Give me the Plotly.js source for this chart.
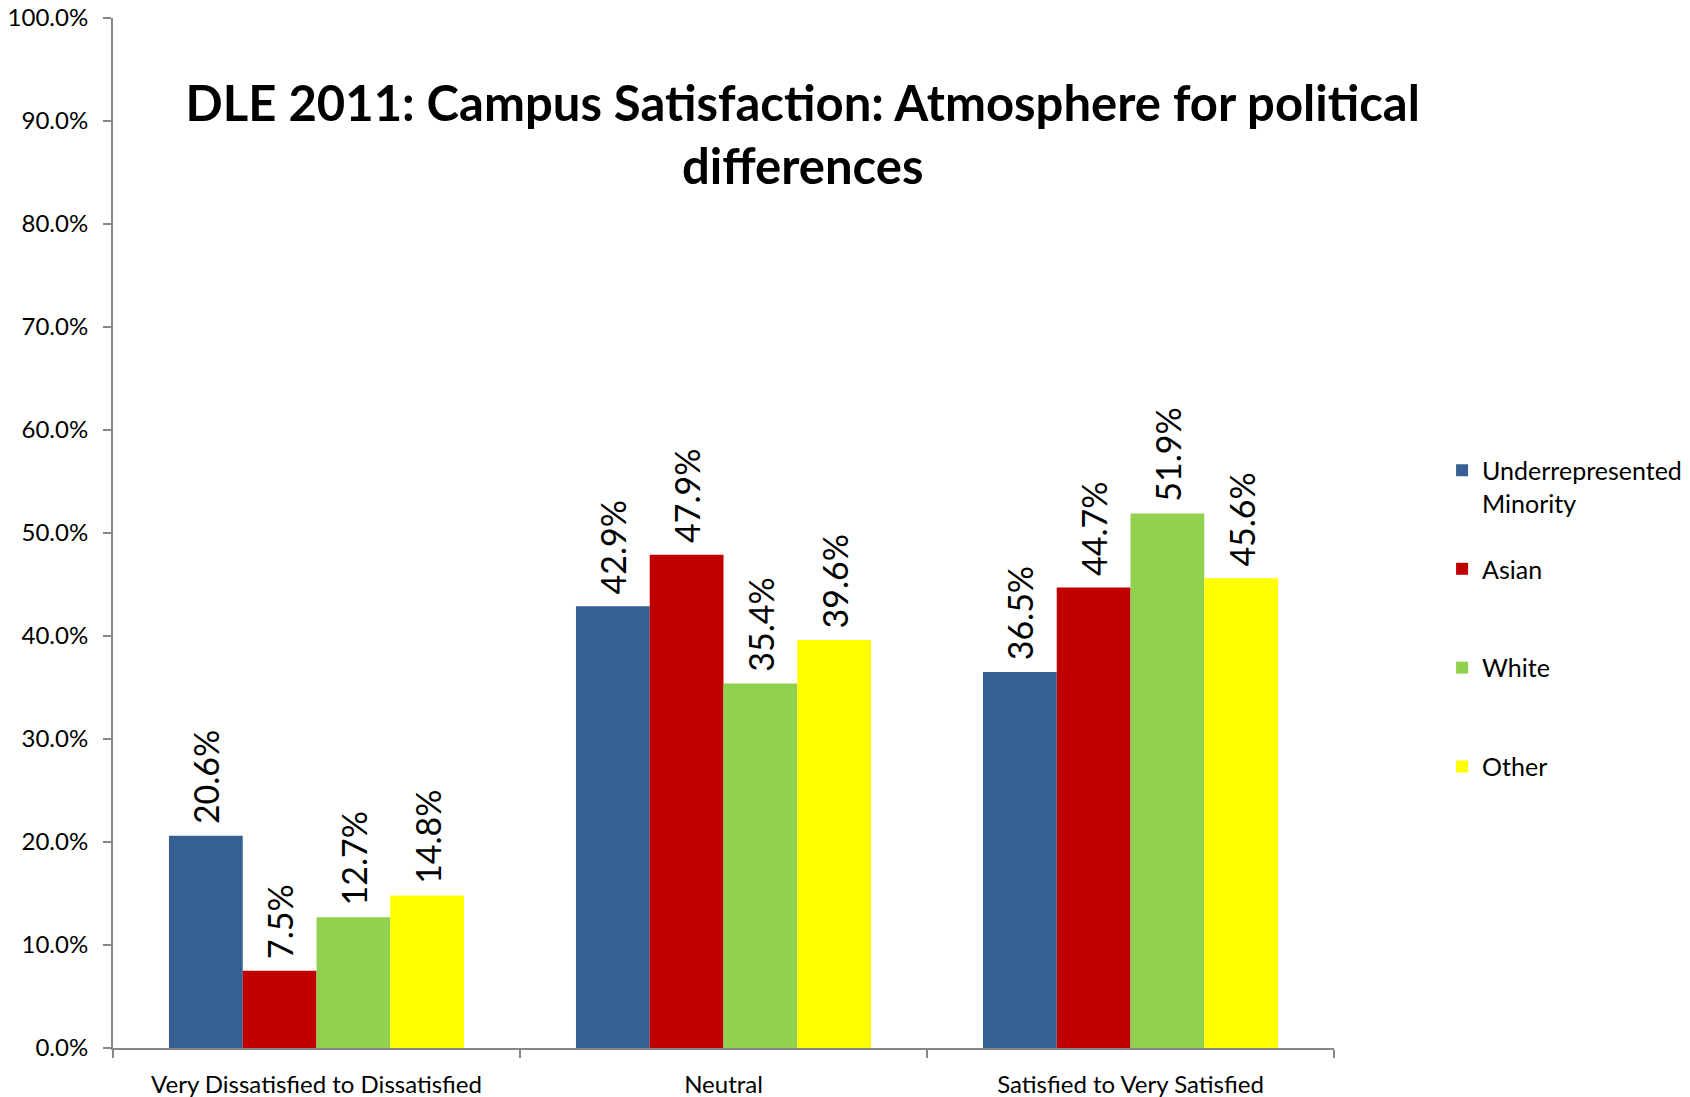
<!DOCTYPE html>
<html>
<head>
<meta charset="utf-8">
<script src="https://cdn.plot.ly/plotly-3.0.1.min.js"></script>
<style>html,body{margin:0;padding:0;background:#fff;}#chart{width:1690px;height:1097px;}</style>
</head>
<body>
<div id="chart"></div>
<script>
const categories = ["Very Dissatisfied to Dissatisfied", "Neutral", "Satisfied to Very Satisfied"];
const seriesNames = ["Underrepresented<br>Minority", "Asian", "White", "Other"];
const urm = [0.206, 0.429, 0.365];
const asian = [0.075, 0.479, 0.447];
const white = [0.127, 0.354, 0.519];
const other = [0.148, 0.396, 0.456];
const colors = ["#376092", "#C00000", "#92D050", "#FFFF00"];
const yTickVals = [0, 0.1, 0.2, 0.3, 0.4, 0.5, 0.6, 0.7, 0.8, 0.9, 1.0];

const FONT = "Lato, 'Open Sans', sans-serif";
const allSeries = [urm, asian, white, other];
const legendIds = ["legend", "legend2", "legend3", "legend4"];
const traces = allSeries.map((vals, i) => ({
  type: "bar",
  name: seriesNames[i],
  x: categories,
  y: vals,
  marker: {color: colors[i], line: {width: 0}},
  text: vals.map(v => "\u00a0" + (v * 100).toFixed(1) + "%"),
  textposition: "outside",
  textangle: -90,
  constraintext: "none",
  textfont: {family: FONT, size: 34, color: "#000"},
  cliponaxis: false,
  legend: legendIds[i],
  hoverinfo: "x+y"
}));

function legendAt(y, anchor) {
  return {
    xref: "container",
    x: 0.8533, xanchor: "left",
    y: y, yanchor: anchor,
    valign: "top",
    font: {family: FONT, size: 25, color: "#000"},
    itemwidth: 30,
    bgcolor: "rgba(0,0,0,0)"
  };
}

const layout = {
  width: 1690,
  height: 1097,
  paper_bgcolor: "#fff",
  plot_bgcolor: "#fff",
  font: {family: FONT, color: "#000"},
  margin: {l: 113, r: 356, t: 18, b: 49},
  barmode: "group",
  bargap: 0.275,
  bargroupgap: 0,
  showlegend: true,
  title: {
    text: "<b>DLE 2011: Campus Satisfaction: Atmosphere for political<br>differences</b>",
    font: {family: FONT, size: 49, color: "#000"},
    x: 0.475, xanchor: "center",
    y: 0.890, yanchor: "middle"
  },
  xaxis: {
    type: "category",
    showline: true, linecolor: "#888888", linewidth: 2,
    ticks: "outside", tickson: "boundaries", ticklen: 8, tickcolor: "#888888", tickwidth: 2,
    tickfont: {family: FONT, size: 24, color: "#000"},
    ticklabelstandoff: 14,
    showgrid: false, zeroline: false
  },
  yaxis: {
    range: [0, 1],
    tickvals: yTickVals,
    tickformat: ".1%",
    showline: true, linecolor: "#888888", linewidth: 2,
    ticks: "outside", ticklen: 8, tickcolor: "#888888", tickwidth: 2,
    tickfont: {family: FONT, size: 24, color: "#000"},
    ticklabelstandoff: 10,
    showgrid: false, zeroline: false
  },
  legend: legendAt(0.583, "top"),
  legend2: legendAt(0.465, "middle"),
  legend3: legendAt(0.369, "middle"),
  legend4: legendAt(0.273, "middle")
};

Plotly.newPlot("chart", traces, layout, {displayModeBar: false, staticPlot: true});
</script>
</body>
</html>
